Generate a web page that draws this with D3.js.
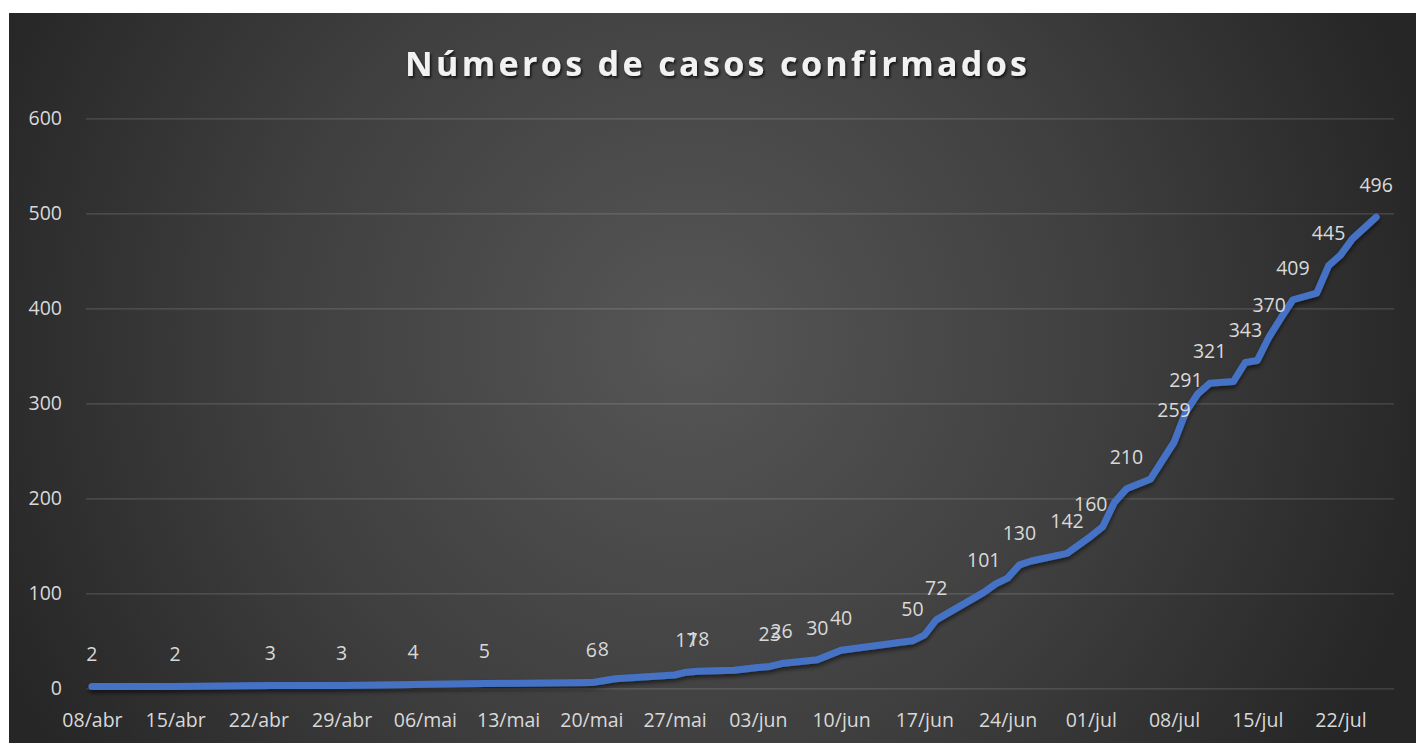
<!DOCTYPE html>
<html>
<head>
<meta charset="utf-8">
<script src="https://cdn.jsdelivr.net/npm/d3@7"></script>
<style>
  html, body { margin: 0; padding: 0; background: #ffffff; }
  svg { display: block; }
  text { font-family: "Open Sans", "Noto Sans", sans-serif; }
</style>
</head>
<body>
<svg id="chart" width="1416" height="743"></svg>
<script>
// ---- data ----
const title = "Números de casos confirmados";
const dates = ["2020-04-08","2020-04-15","2020-04-23","2020-04-29","2020-05-05","2020-05-11",
  "2020-05-20","2020-05-21","2020-05-22","2020-05-27","2020-05-28","2020-05-29","2020-06-01",
  "2020-06-03","2020-06-04","2020-06-05","2020-06-08","2020-06-10","2020-06-16","2020-06-17",
  "2020-06-18","2020-06-22","2020-06-23","2020-06-24","2020-06-25","2020-06-26","2020-06-29",
  "2020-07-01","2020-07-02","2020-07-03","2020-07-04","2020-07-06","2020-07-08","2020-07-09",
  "2020-07-10","2020-07-11","2020-07-13","2020-07-14","2020-07-15","2020-07-16","2020-07-17",
  "2020-07-18","2020-07-20","2020-07-21","2020-07-22","2020-07-23","2020-07-25"];
const cases = [2,2,3,3,4,5,
  6,8,10,14,17,18,19,
  22,23,26,30,40,50,56,
  72,101,110,116,130,134,142,
  160,170,196,210,220,259,291,
  310,321,323,343,345,370,390,
  409,416,445,456,473,496];
const showLabel = [1,1,1,1,1,1,
  1,1,0,0,1,1,0,
  0,1,1,1,1,1,0,
  1,1,0,0,1,0,1,
  1,0,0,1,0,1,1,
  0,1,0,1,0,1,0,
  1,0,1,0,0,1];
const axisStart = "2020-04-08";
const axisEnd = "2020-07-26";
const tickDates = ["2020-04-08","2020-04-15","2020-04-22","2020-04-29","2020-05-06","2020-05-13",
  "2020-05-20","2020-05-27","2020-06-03","2020-06-10","2020-06-17","2020-06-24","2020-07-01",
  "2020-07-08","2020-07-15","2020-07-22"];
const monthAbbr = ["jan","fev","mar","abr","mai","jun","jul","ago","set","out","nov","dez"];
const yTicks = [0,100,200,300,400,500,600];

// ---- layout ----
const W = 1416, H = 743;
const plot = {left: 86, right: 1394, top: 118.3, bottom: 688.3};
const parse = d3.utcParse("%Y-%m-%d");
const HALF_DAY = 12 * 3600 * 1000;

const svg = d3.select("#chart");
const defs = svg.append("defs");

const rg = defs.append("radialGradient").attr("id", "bg")
  .attr("gradientUnits", "userSpaceOnUse")
  .attr("cx", 690).attr("cy", 340).attr("r", 760);
rg.append("stop").attr("offset", "0%").attr("stop-color", "#565656");
rg.append("stop").attr("offset", "55%").attr("stop-color", "#3f3f3f");
rg.append("stop").attr("offset", "100%").attr("stop-color", "#262626");

const sh = defs.append("filter").attr("id", "lineShadow")
  .attr("x", "-5%").attr("y", "-10%").attr("width", "110%").attr("height", "130%");
sh.append("feDropShadow").attr("dx", 0).attr("dy", 3).attr("stdDeviation", 2)
  .attr("flood-color", "#000").attr("flood-opacity", 0.55);

const tsh = defs.append("filter").attr("id", "titleShadow")
  .attr("x", "-5%").attr("y", "-20%").attr("width", "110%").attr("height", "150%");
tsh.append("feDropShadow").attr("dx", 1.5).attr("dy", 2).attr("stdDeviation", 1.2)
  .attr("flood-color", "#000").attr("flood-opacity", 0.7);

svg.append("rect").attr("x", 9).attr("y", 13).attr("width", W - 9).attr("height", H - 13)
  .attr("fill", "url(#bg)");

// scales
const x = d3.scaleUtc()
  .domain([new Date(parse(axisStart).getTime() - HALF_DAY), new Date(parse(axisEnd).getTime() + HALF_DAY)])
  .range([plot.left, plot.right]);
const y = d3.scaleLinear().domain([0, 600]).range([plot.bottom, plot.top]);

// gridlines + y axis
const yAxis = d3.axisLeft(y).tickValues(yTicks).tickSize(-(plot.right - plot.left)).tickPadding(24);
const gy = svg.append("g").attr("transform", `translate(${plot.left},0)`).call(yAxis);
gy.select(".domain").remove();
gy.selectAll(".tick line").attr("stroke", "#ffffff").attr("stroke-opacity", 0.16).attr("stroke-width", 1.2);
gy.selectAll(".tick text").attr("fill", "#d9d9d9").attr("font-size", 19.5)
  .attr("font-family", "'Open Sans', sans-serif");

// x axis
const fmt = d => d3.utcFormat("%d")(d) + "/" + monthAbbr[d.getUTCMonth()];
const xAxis = d3.axisBottom(x).tickValues(tickDates.map(parse)).tickFormat(fmt).tickSize(0).tickPadding(0);
const gx = svg.append("g").attr("transform", `translate(0,${plot.bottom})`).call(xAxis);
gx.select(".domain").remove();
gx.selectAll(".tick text").attr("fill", "#d9d9d9").attr("font-size", 19.5)
  .attr("font-family", "'Open Sans', sans-serif")
  .attr("dy", null).attr("y", 39);

// line
const pts = dates.map((d, i) => ({date: parse(d), v: cases[i], lab: showLabel[i]}));
const line = d3.line().x(d => x(d.date)).y(d => y(d.v));
svg.append("path").datum(pts)
  .attr("d", line)
  .attr("fill", "none")
  .attr("stroke", "#4472c4")
  .attr("stroke-width", 7)
  .attr("stroke-linejoin", "round")
  .attr("stroke-linecap", "round")
  .attr("filter", "url(#lineShadow)");

// data labels
svg.append("g").selectAll("text").data(pts.filter(p => p.lab))
  .join("text")
  .attr("x", d => x(d.date))
  .attr("y", d => y(d.v) - 32)
  .attr("dy", "0.35em")
  .attr("text-anchor", "middle")
  .attr("fill", "#d9d9d9")
  .attr("font-size", 19.5)
  .text(d => d.v);

// title
const t = svg.append("text")
  .attr("x", 716).attr("y", 76)
  .attr("text-anchor", "middle")
  .attr("fill", "#f2f2f2")
  .attr("font-size", 34)
  .attr("font-weight", "bold")
  .attr("font-family", "Lato, 'Open Sans', sans-serif")
  .attr("filter", "url(#titleShadow)")
  .text(title);
const targetW = 622;
const w0 = t.node().getComputedTextLength();
const ls = (targetW - w0) / (title.length - 1);
t.attr("letter-spacing", ls + "px").attr("x", 716 + ls / 2);
</script>
</body>
</html>
